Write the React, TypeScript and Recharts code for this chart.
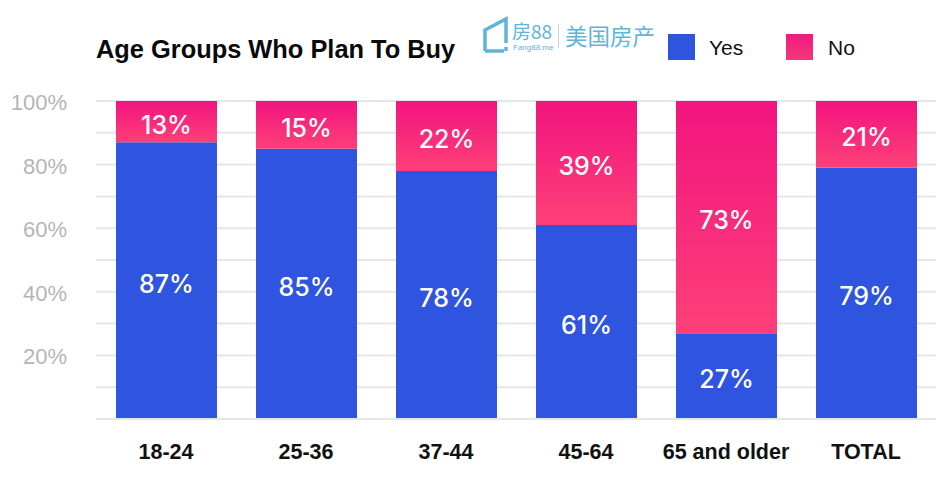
import React from "react";
import { BarChart, Bar, XAxis, YAxis, CartesianGrid, LabelList } from "recharts";

const categories = ["18-24", "25-36", "37-44", "45-64", "65 and older", "TOTAL"];
const yesValues = [87, 85, 78, 61, 27, 79];
const noValues = [13, 15, 22, 39, 73, 21];
const yTicks = [0, 10, 20, 30, 40, 50, 60, 70, 80, 90, 100];
const labeledTicks = [20, 40, 60, 80, 100];
const rows = categories.map((name, i) => ({ name, Yes: yesValues[i], No: noValues[i] }));

const FONT = "'Liberation Sans', Arial, sans-serif";
const pct = (v: number) => `${v}%`;

function LegendBox() {
  const item = (label: string, bg: string, left: number, textLeft: number) => (
    <React.Fragment key={label}>
      <div style={{ position: "absolute", left, top: 34, width: 27, height: 26, background: bg }} />
      <div style={{ position: "absolute", left: textLeft, top: 34, fontSize: 21, lineHeight: "27px", color: "#111", fontFamily: FONT }}>{label}</div>
    </React.Fragment>
  );
  return (
    <>
      {item("Yes", "#2f55e0", 668, 709)}
      {item("No", "linear-gradient(#f2197f,#f03a78)", 786, 828)}
    </>
  );
}

function Logo() {
  const c = "#5fb4d8";
  return (
    <div style={{ position: "absolute", left: 482, top: 16, width: 180, height: 40, color: c }}>
      <svg width="30" height="38" style={{ position: "absolute", left: 0, top: 0 }}>
        <path d="M3 35 V14 L24 3 V27 M24 31 V35 M3 35 H22" fill="none" stroke={c} strokeWidth="3.5" />
      </svg>
      <div style={{ position: "absolute", left: 30, top: 3, fontSize: 19, lineHeight: "23px", fontFamily: "'Noto Sans CJK SC', sans-serif", whiteSpace: "nowrap" }}>房88</div>
      <div style={{ position: "absolute", left: 31, top: 27, fontSize: 8, lineHeight: "9px", fontFamily: FONT }}>Fang88.me</div>
      <div style={{ position: "absolute", left: 76, top: 8, width: 1, height: 24, background: "#bcdcea" }} />
      <div style={{ position: "absolute", left: 83, top: 6, fontSize: 22.5, lineHeight: "26px", fontFamily: "'Noto Sans CJK SC', sans-serif", whiteSpace: "nowrap" }}>美国房产</div>
    </div>
  );
}

const BarLabel = (p: any) => (
  <text
    x={p.x + p.width / 2}
    y={p.y + p.height / 2 + 12}
    textAnchor="middle"
    fill="#fff"
    fontSize={25}
    fontWeight={500}
    fontFamily="Inter, sans-serif"
  >
    {pct(p.value)}
  </text>
);

export default function App() {
  return (
    <div style={{ position: "absolute", left: 0, top: 0, width: 943, height: 496, background: "#fff", overflow: "hidden" }}>
      <BarChart
        width={943}
        height={496}
        data={rows}
        margin={{ top: 101, right: 7, bottom: 0, left: 0 }}
        barSize={101}
        style={{ fontFamily: FONT }}
      >
        <defs>
          <linearGradient id="noFill" x1="0" y1="0" x2="0" y2="1">
            <stop offset="0%" stopColor="#f2147f" />
            <stop offset="100%" stopColor="#fd4078" />
          </linearGradient>
        </defs>
        <CartesianGrid vertical={false} stroke="#e6e6e6" strokeWidth={2} />
        <XAxis
          dataKey="name"
          axisLine={{ stroke: "#e6e6e6", strokeWidth: 2 }}
          tickLine={false}
          height={77}
          tickMargin={19}
          tick={{ fontSize: 21.5, fontWeight: 700, fill: "#111" }}
        />
        <YAxis
          width={96}
          domain={[0, 100]}
          ticks={yTicks}
          interval={0}
          axisLine={false}
          tickLine={false}
          tick={(p: any) =>
            labeledTicks.includes(p.payload.value) ? (
              <text x={67} y={p.y + 9} textAnchor="end" fontSize={22} fill="#b5b5b5">
                {pct(p.payload.value)}
              </text>
            ) : (
              <g />
            )
          }
        />
        <Bar dataKey="Yes" stackId="a" fill="#2f55e0" isAnimationActive={false}>
          <LabelList dataKey="Yes" content={BarLabel} />
        </Bar>
        <Bar dataKey="No" stackId="a" fill="url(#noFill)" isAnimationActive={false}>
          <LabelList dataKey="No" content={BarLabel} />
        </Bar>
      </BarChart>
      <div style={{ position: "absolute", left: 96, top: 33, fontFamily: FONT, fontWeight: 700, fontSize: 25.4, lineHeight: "32px", color: "#0a0a0a", whiteSpace: "nowrap" }}>
        Age Groups Who Plan To Buy
      </div>
      <LegendBox />
      <Logo />
    </div>
  );
}
